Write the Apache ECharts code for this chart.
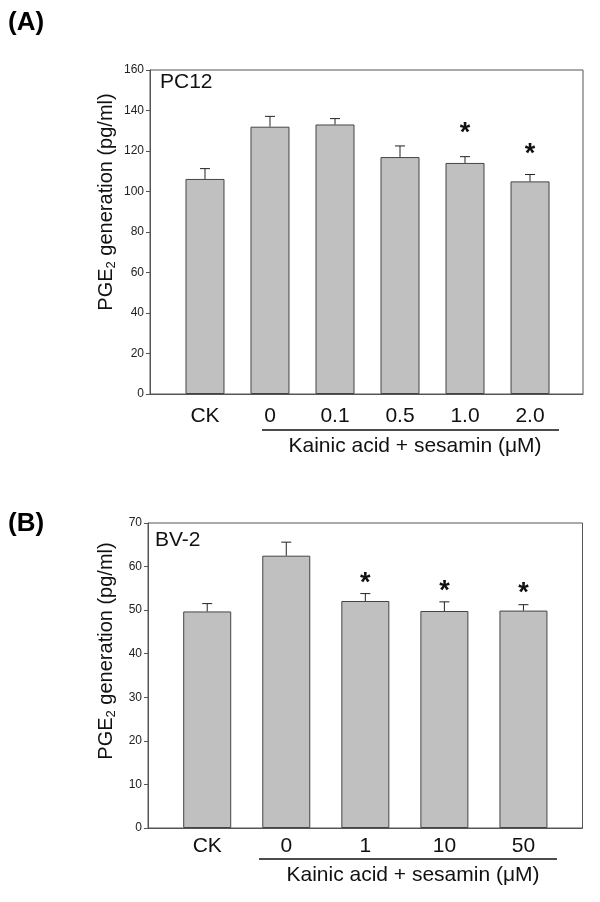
<!DOCTYPE html>
<html>
<head>
<meta charset="utf-8">
<script src="https://cdn.jsdelivr.net/npm/echarts@6/dist/echarts.min.js"></script>
<style>html,body{margin:0;padding:0;background:#fff;}#c{width:600px;height:902px;}</style>
</head>
<body>
<div id="c"></div>
<script>
// ---- Panel A (PC12) ----
var catsA = ['CK', '0', '0.1', '0.5', '1.0', '2.0'];
var meanA = [106.2, 132.0, 133.1, 117.0, 114.1, 105.0];
var errA  = [5.1, 5.1, 2.9, 5.5, 3.1, 3.4];
var starA = [null, null, null, null, 130.5, 120.3];
var yMaxA = 160, yStepA = 20;

// ---- Panel B (BV-2) ----
var catsB = ['CK', '0', '1', '10', '50'];
var meanB = [49.7, 62.5, 52.1, 49.8, 49.9];
var errB  = [1.8, 3.1, 1.7, 2.1, 1.35];
var starB = [null, null, 57.0, 55.2, 54.7];
var yMaxB = 70, yStepB = 10;

var FONT = '"Liberation Sans", Arial, sans-serif';
var AX = '#555';

function idx(arr){ return arr.map(function(_, i){ return i; }); }

function errSeries(mean, err, ai){
  return {
    type: 'custom', xAxisIndex: ai, yAxisIndex: ai, z: 5,
    data: mean.map(function(m, i){ return [i, m, err[i]]; }),
    renderItem: function(params, api){
      var x = api.value(0), m = api.value(1), e = api.value(2);
      var p0 = api.coord([x, m]), p1 = api.coord([x, m + e]);
      var st = {stroke: '#222', lineWidth: 1};
      return {type: 'group', children: [
        {type: 'line', shape: {x1: p0[0], y1: p0[1], x2: p1[0], y2: p1[1]}, style: st},
        {type: 'line', shape: {x1: p1[0] - 5, y1: p1[1], x2: p1[0] + 5, y2: p1[1]}, style: st}
      ]};
    }
  };
}
function starSeries(star, ai){
  return {
    type: 'custom', xAxisIndex: ai, yAxisIndex: ai, z: 6,
    data: star.map(function(s, i){ return [i, s]; }).filter(function(d){ return d[1] != null; }),
    renderItem: function(params, api){
      var p = api.coord([api.value(0), api.value(1)]);
      return {type: 'text', x: p[0], y: p[1] + 4,
        style: {text: '*', fontSize: 27, fontWeight: 'bold', fontFamily: FONT, fill: '#111', align: 'center', verticalAlign: 'middle'}};
    }
  };
}
function xAx(cats, min, max, gi, margin){
  return {
    type: 'value', gridIndex: gi, min: min, max: max,
    splitLine: {show: false}, axisTick: {show: false},
    axisLine: {show: true, onZero: false, lineStyle: {color: AX, width: 1}},
    axisLabel: {customValues: idx(cats), margin: margin, fontSize: 21, fontFamily: FONT, color: '#111',
      formatter: function(v){ return cats[Math.round(v)]; }}
  };
}
function yAx(max, step, gi){
  return {
    type: 'value', gridIndex: gi, min: 0, max: max, interval: step,
    splitLine: {show: false},
    axisLine: {show: true, onZero: false, lineStyle: {color: AX, width: 1}},
    axisTick: {show: true, inside: false, length: 4, lineStyle: {color: AX}},
    axisLabel: {fontSize: 12, fontFamily: FONT, color: '#222', margin: 6}
  };
}
var barStyle = {color: '#c0c0c0', borderColor: '#444', borderWidth: 1};
var titleRich = {
  a: {fontSize: 20, fontFamily: FONT, fill: '#111'},
  s: {fontSize: 13, fontFamily: FONT, fill: '#111', verticalAlign: 'bottom', padding: [10, 0, 0, 0]}
};

var option = {
  animation: false,
  grid: [
    {left: 150, top: 70, width: 433, height: 324, show: true, borderColor: AX, borderWidth: 1, backgroundColor: 'transparent'},
    {left: 148, top: 523, width: 434.5, height: 305, show: true, borderColor: AX, borderWidth: 1, backgroundColor: 'transparent'}
  ],
  xAxis: [xAx(catsA, -0.846, 5.815, 0, 12), xAx(catsB, -0.749, 4.747, 1, 8)],
  yAxis: [yAx(yMaxA, yStepA, 0), yAx(yMaxB, yStepB, 1)],
  series: [
    {type: 'bar', xAxisIndex: 0, yAxisIndex: 0, barWidth: 39, itemStyle: barStyle,
      data: meanA.map(function(m, i){ return [i, m]; })},
    errSeries(meanA, errA, 0),
    starSeries(starA, 0),
    {type: 'bar', xAxisIndex: 1, yAxisIndex: 1, barWidth: 48, itemStyle: barStyle,
      data: meanB.map(function(m, i){ return [i, m]; })},
    errSeries(meanB, errB, 1),
    starSeries(starB, 1)
  ],
  graphic: [
    {type: 'text', left: 8, top: 10, style: {text: '(A)', font: 'bold 26px ' + FONT, fill: '#000'}},
    {type: 'text', left: 8, top: 511, style: {text: '(B)', font: 'bold 26px ' + FONT, fill: '#000'}},
    {type: 'text', left: 160, top: 72, style: {text: 'PC12', font: '21px ' + FONT, fill: '#111'}},
    {type: 'text', left: 155, top: 530, style: {text: 'BV-2', font: '21px ' + FONT, fill: '#111'}},
    {type: 'text', x: 106, y: 202, rotation: Math.PI / 2,
      style: {text: '{a|PGE}{s|2}{a| generation (pg/ml)}', rich: titleRich, align: 'center', verticalAlign: 'middle'}},
    {type: 'text', x: 106, y: 651, rotation: Math.PI / 2,
      style: {text: '{a|PGE}{s|2}{a| generation (pg/ml)}', rich: titleRich, align: 'center', verticalAlign: 'middle'}},
    {type: 'line', shape: {x1: 262, y1: 430, x2: 559, y2: 430}, style: {stroke: '#111', lineWidth: 1.5}},
    {type: 'text', x: 415, y: 446, style: {text: 'Kainic acid + sesamin (\u03bcM)', font: '21px ' + FONT, fill: '#111', align: 'center', verticalAlign: 'middle'}},
    {type: 'line', shape: {x1: 259, y1: 859, x2: 557, y2: 859}, style: {stroke: '#111', lineWidth: 1.5}},
    {type: 'text', x: 413, y: 875, style: {text: 'Kainic acid + sesamin (\u03bcM)', font: '21px ' + FONT, fill: '#111', align: 'center', verticalAlign: 'middle'}}
  ]
};
echarts.init(document.getElementById('c'), null, {renderer: 'canvas'}).setOption(option);
</script>
</body>
</html>
